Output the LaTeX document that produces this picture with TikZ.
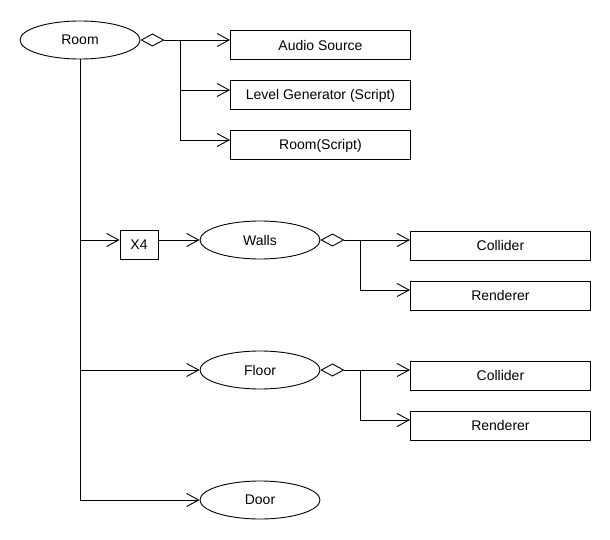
\documentclass[tikz,border=0pt]{standalone}
\usepackage{fontspec}
\setmainfont{Liberation Sans}
\usetikzlibrary{arrows.meta,shapes.geometric}
\begin{document}
\begin{tikzpicture}[x=1pt,y=-1pt,line width=0.9pt,
  lbl/.style={font=\fontsize{14}{16}\selectfont},
  box/.style={draw,rectangle,minimum width=180pt,minimum height=29pt,inner sep=0pt,anchor=north west,lbl},
  smallbox/.style={draw,rectangle,minimum width=38pt,minimum height=29pt,inner sep=0pt,lbl},
  ell/.style={draw,ellipse,minimum width=120pt,minimum height=38pt,inner sep=0pt,lbl},
  arr/.style={-{Straight Barb[length=12pt,width=13pt]}},
  agg/.style={{Diamond[open,length=24pt,width=13pt]}-}]
\useasboundingbox (0,0) rectangle (610,540);
% nodes
\node[ell] (room) at (80,40) {Room};
\node[box] (audio) at (230,30.5) {Audio Source};
\node[box] (lvl) at (230,80.5) {Level Generator (Script)};
\node[box] (rs) at (230,130.5) {Room(Script)};
\node[smallbox] (x4) at (139,245) {X4};
\node[ell] (walls) at (260,240) {Walls};
\node[box] (wcol) at (410,230.5) {Collider};
\node[box] (wren) at (410,280.5) {Renderer};
\node[ell] (floor) at (260,370) {Floor};
\node[box] (fcol) at (410,360.5) {Collider};
\node[box] (fren) at (410,410.5) {Renderer};
\node[ell] (door) at (260,500) {Door};
% junctions
\coordinate (j1) at (180,40);
\coordinate (j2) at (180,90);
\coordinate (j3) at (180,140);
\coordinate (m1) at (80,240);
\coordinate (m2) at (80,370);
\coordinate (m3) at (80,500);
\coordinate (w1) at (360,240);
\coordinate (w2) at (360,290);
\coordinate (f1) at (360,370);
\coordinate (f2) at (360,420);
% room components
\draw[agg] (room.east) -- (j1);
\draw (j1) -- (j3);
\draw[arr] (j1) -- (j1 -| audio.west);
\draw[arr] (j2) -- (j2 -| lvl.west);
\draw[arr] (j3) -- (j3 -| rs.west);
% main trunk
\draw (room.south) -- (m3);
\draw[arr] (m1) -- (m1 -| x4.west);
\draw[arr] (x4.east |- walls) -- (walls.west);
\draw[arr] (m2) -- (floor.west);
\draw[arr] (m3) -- (door.west);
% walls components
\draw[agg] (walls.east) -- (w1);
\draw (w1) -- (w2);
\draw[arr] (w1) -- (w1 -| wcol.west);
\draw[arr] (w2) -- (w2 -| wren.west);
% floor components
\draw[agg] (floor.east) -- (f1);
\draw (f1) -- (f2);
\draw[arr] (f1) -- (f1 -| fcol.west);
\draw[arr] (f2) -- (f2 -| fren.west);
\end{tikzpicture}
\end{document}
